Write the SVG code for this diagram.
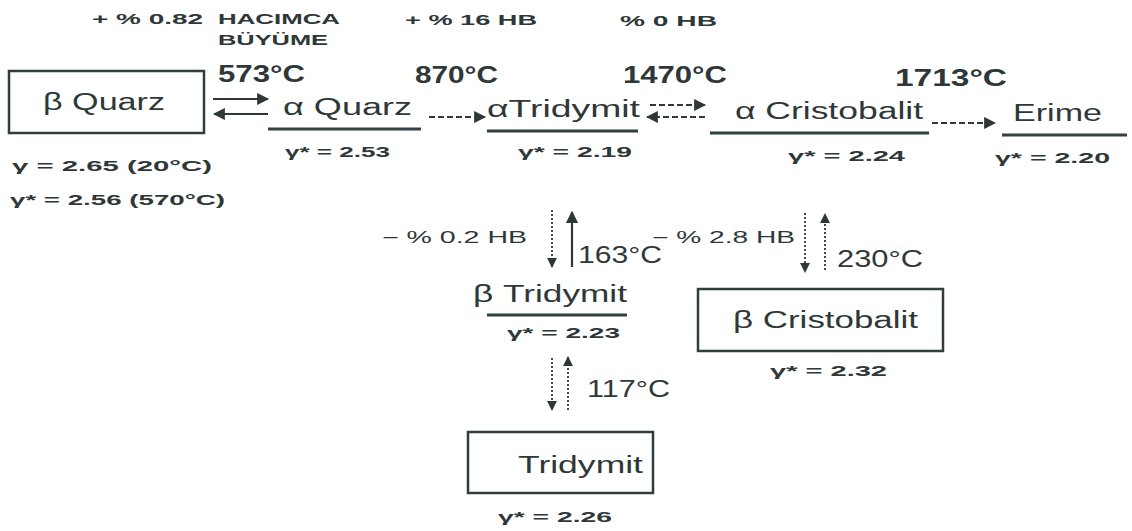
<svg xmlns="http://www.w3.org/2000/svg" width="1132" height="531" viewBox="0 0 1132 531">
<defs>
<style>
text{font-family:"Liberation Sans",Arial,sans-serif;fill:#2f3838}
.big{font-size:23px}
.tmp{font-size:23px;font-weight:bold}
.hdr{font-size:15px;font-weight:bold}
.sm{font-size:15px;font-weight:bold}
.lab{font-size:16px}
.box{fill:none;stroke:#2f3f3f;stroke-width:2.5}
.ul{stroke:#2f4242;stroke-width:3}
.ar{stroke:#2f3838;stroke-width:2.2;fill:none}
.da{stroke:#2f3838;stroke-width:2.2;fill:none;stroke-dasharray:6 3}
.dt{stroke:#2f3838;stroke-width:1.8;fill:none;stroke-dasharray:2 2}
</style>
<marker id="ah" viewBox="0 0 10 10" refX="9" refY="5" markerWidth="5.5" markerHeight="5.5" orient="auto-start-reverse">
<path d="M0,0 L10,5 L0,10 Z" fill="#2f3838"/>
</marker>
</defs>
<rect width="1132" height="531" fill="#ffffff"/>

<g id="header">
<text class="hdr" x="92" y="24" textLength="111" lengthAdjust="spacingAndGlyphs">+ % 0.82</text>
<text class="hdr" x="218" y="24" textLength="122" lengthAdjust="spacingAndGlyphs">HACIMCA</text>
<text class="hdr" x="218" y="45" textLength="110" lengthAdjust="spacingAndGlyphs">BÜYÜME</text>
<text class="hdr" x="405" y="25" textLength="132" lengthAdjust="spacingAndGlyphs">+ % 16 HB</text>
<text class="hdr" x="620" y="26" textLength="97" lengthAdjust="spacingAndGlyphs">% 0 HB</text>
<text class="tmp" x="218" y="82" textLength="87" lengthAdjust="spacingAndGlyphs">573°C</text>
<text class="tmp" x="415" y="83" textLength="83" lengthAdjust="spacingAndGlyphs">870°C</text>
<text class="tmp" x="623" y="83" textLength="104" lengthAdjust="spacingAndGlyphs">1470°C</text>
<text class="tmp" x="895" y="86" textLength="112" lengthAdjust="spacingAndGlyphs">1713°C</text>
</g>

<g id="beta-quarz">
<rect class="box" x="9" y="71" width="195" height="62"/>
<text class="big" x="43" y="110" textLength="122" lengthAdjust="spacingAndGlyphs">β Quarz</text>
<text class="sm" x="12" y="171" textLength="200" lengthAdjust="spacingAndGlyphs">γ = 2.65 (20°C)</text>
<text class="sm" x="10" y="205" textLength="215" lengthAdjust="spacingAndGlyphs">γ* = 2.56 (570°C)</text>
</g>

<g id="alpha-quarz">
<text class="big" x="283" y="115" textLength="129" lengthAdjust="spacingAndGlyphs">α Quarz</text>
<line class="ul" x1="268" y1="129" x2="421" y2="129"/>
<text class="sm" x="285" y="157" textLength="105" lengthAdjust="spacingAndGlyphs">γ* = 2.53</text>
</g>

<g id="alpha-tridymit">
<text class="big" x="487" y="117" textLength="153" lengthAdjust="spacingAndGlyphs">αTridymit</text>
<line class="ul" x1="487" y1="131" x2="638" y2="131"/>
<text class="sm" x="518" y="157" textLength="114" lengthAdjust="spacingAndGlyphs">γ* = 2.19</text>
</g>

<g id="alpha-cristobalit">
<text class="big" x="735" y="119" textLength="188" lengthAdjust="spacingAndGlyphs">α Cristobalit</text>
<line class="ul" x1="710" y1="133" x2="929" y2="133"/>
<text class="sm" x="788" y="161" textLength="117" lengthAdjust="spacingAndGlyphs">γ* = 2.24</text>
</g>

<g id="erime">
<text class="big" x="1013" y="121" textLength="89" lengthAdjust="spacingAndGlyphs">Erime</text>
<line class="ul" x1="1002" y1="135" x2="1127" y2="135"/>
<text class="sm" x="995" y="163" textLength="115" lengthAdjust="spacingAndGlyphs">γ* = 2.20</text>
</g>

<g id="beta-tridymit">
<text class="big" x="473" y="302" textLength="154" lengthAdjust="spacingAndGlyphs">β Tridymit</text>
<line class="ul" x1="487" y1="315" x2="627" y2="315"/>
<text class="sm" x="507" y="338" textLength="113" lengthAdjust="spacingAndGlyphs">γ* = 2.23</text>
</g>

<g id="beta-cristobalit">
<rect class="box" x="698" y="289" width="245" height="62"/>
<text class="big" x="733" y="328" textLength="185" lengthAdjust="spacingAndGlyphs">β Cristobalit</text>
<text class="sm" x="770" y="376" textLength="117" lengthAdjust="spacingAndGlyphs">γ* = 2.32</text>
</g>

<g id="tridymit">
<rect class="box" x="468" y="432" width="185" height="61"/>
<text class="big" x="518" y="473" textLength="125" lengthAdjust="spacingAndGlyphs">Tridymit</text>
<text class="sm" x="498" y="522" textLength="114" lengthAdjust="spacingAndGlyphs">γ* = 2.26</text>
</g>

<g id="connectors">
<line class="ar" x1="213" y1="99" x2="268" y2="99" marker-end="url(#ah)"/>
<line class="ar" x1="268" y1="114" x2="214" y2="114" marker-end="url(#ah)"/>
<line class="da" x1="429" y1="117" x2="485" y2="117" marker-end="url(#ah)"/>
<line class="da" x1="650" y1="105" x2="705" y2="105" marker-end="url(#ah)"/>
<line class="da" x1="705" y1="117" x2="647" y2="117" marker-end="url(#ah)"/>
<line class="da" x1="932" y1="123" x2="995" y2="123" marker-end="url(#ah)"/>
<line class="dt" x1="552" y1="210" x2="552" y2="267" marker-end="url(#ah)"/>
<line class="ar" x1="572" y1="267" x2="572" y2="212" marker-end="url(#ah)"/>
<line class="dt" x1="805" y1="213" x2="805" y2="272" marker-end="url(#ah)"/>
<line class="dt" x1="825" y1="270" x2="825" y2="214" marker-end="url(#ah)"/>
<line class="dt" x1="552" y1="358" x2="552" y2="410" marker-end="url(#ah)"/>
<line class="dt" x1="568" y1="410" x2="568" y2="357" marker-end="url(#ah)"/>
<text class="lab" x="382" y="243" textLength="145" lengthAdjust="spacingAndGlyphs">− % 0.2 HB</text>
<text class="lab" x="652" y="243" textLength="143" lengthAdjust="spacingAndGlyphs">− % 2.8 HB</text>
<text class="big" x="578" y="263" textLength="84" lengthAdjust="spacingAndGlyphs">163°C</text>
<text class="big" x="837" y="267" textLength="86" lengthAdjust="spacingAndGlyphs">230°C</text>
<text class="big" x="587" y="397" textLength="83" lengthAdjust="spacingAndGlyphs">117°C</text>
</g>
</svg>
